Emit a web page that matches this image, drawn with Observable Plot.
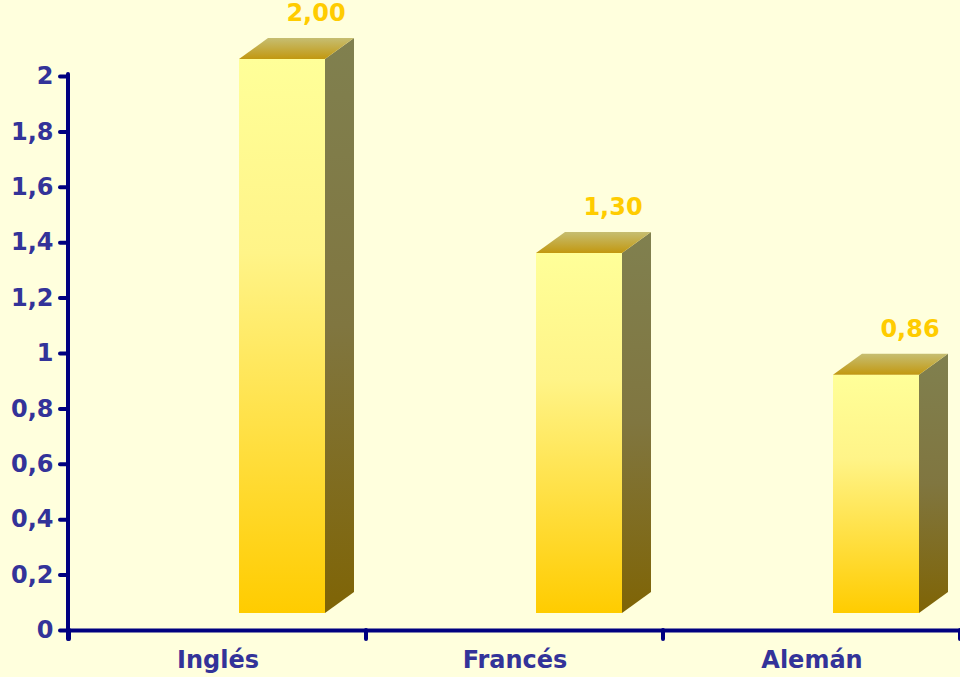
<!DOCTYPE html>
<html><head><meta charset="utf-8">
<script src="https://cdn.jsdelivr.net/npm/d3@7"></script>
<script src="https://cdn.jsdelivr.net/npm/@observablehq/plot@0.6"></script>
<style>html,body{margin:0;padding:0;background:#FFFFDD;overflow:hidden}</style>
</head><body><div id="chart"></div>
<script>
const categories = ["Inglés", "Francés", "Alemán"];
const values = [2.00, 1.30, 0.86];
const yTicks = [0, 0.2, 0.4, 0.6, 0.8, 1, 1.2, 1.4, 1.6, 1.8, 2];

const data = categories.map((c, i) => ({category: c, value: values[i]}));
const comma = d => String(+(+d).toFixed(2)).replace(".", ",");
const navy = "#000080", labelColor = "#333399";
const font = "'DejaVu Sans', Verdana, sans-serif";
const inL = 170, inR = 41, frontDy = -17, depthX = 29, depthY = -21;

const plot = Plot.plot({
  width: 960, height: 677,
  marginLeft: 68, marginRight: 0, marginTop: 76, marginBottom: 47,
  style: {background: "#FFFFDD", fontFamily: font, overflow: "visible"},
  x: {domain: categories, padding: 0, label: null},
  y: {domain: [0, 2], label: null},
  marks: [
    Plot.barY(data, {x: "category", y: "value", fill: "url(#frontGrad)", insetLeft: inL, insetRight: inR, dy: frontDy}),
    Plot.ruleY([0], {stroke: navy, strokeWidth: 4}),
    Plot.axisY({ticks: yTicks, tickFormat: comma, tickSize: 8, tickPadding: 7, stroke: navy, strokeWidth: 4, strokeLinecap: "round", fill: labelColor, fontSize: 24, fontWeight: "bold", label: null}),
    Plot.axisX({tickSize: 0, tickPadding: 20, fill: labelColor, fontSize: 24, fontWeight: "bold", label: null}),
    Plot.text(data, {x: "category", y: "value", text: d => d.value.toFixed(2).replace(".", ","), dx: 98, dy: -63, fill: "#FFCC00", fontSize: 24, fontWeight: "bold"})
  ]
});
document.getElementById("chart").appendChild(plot);

const svg = d3.select(plot);
const defs = svg.insert("defs", ":first-child");
function grad(id, stops) {
  const lg = defs.append("linearGradient").attr("id", id).attr("x1", 0).attr("y1", 0).attr("x2", 0).attr("y2", 1);
  stops.forEach(([o, c]) => lg.append("stop").attr("offset", o).attr("stop-color", c));
}
grad("frontGrad", [[0, "#FFFF99"], [0.35, "#FFF488"], [1, "#FFCC00"]]);
grad("sideGrad", [[0, "#80804F"], [0.5, "#807640"], [1, "#7F6405"]]);
grad("topGrad", [[0, "#C6BE72"], [1, "#C29810"]]);

const xs = plot.scale("x"), ys = plot.scale("y");
const bw = xs.bandwidth;
const g = svg.append("g");
data.forEach(d => {
  const bx = xs.apply(d.category);
  const x0 = bx + inL, x1 = bx + bw - inR;
  const yt = ys.apply(d.value) + frontDy, yb = ys.apply(0) + frontDy;
  g.append("polygon")
    .attr("points", [[x1, yt], [x1 + depthX, yt + depthY], [x1 + depthX, yb + depthY], [x1, yb]].join(" "))
    .attr("fill", "url(#sideGrad)");
  g.append("polygon")
    .attr("points", [[x0, yt], [x1, yt], [x1 + depthX, yt + depthY], [x0 + depthX, yt + depthY]].join(" "))
    .attr("fill", "url(#topGrad)");
});
// y axis line and category boundary ticks
const xr = xs.range, y0 = ys.apply(0), y2 = ys.apply(2);
g.append("line").attr("x1", xr[0]).attr("x2", xr[0]).attr("y1", y2 - 2).attr("y2", y0 + 9)
  .attr("stroke", navy).attr("stroke-width", 4).attr("stroke-linecap", "round");
categories.concat([null]).forEach((c, i) => {
  const x = c === null ? xs.apply(categories[categories.length - 1]) + bw : xs.apply(c);
  g.append("line").attr("x1", x).attr("x2", x).attr("y1", y0).attr("y2", y0 + 9)
    .attr("stroke", navy).attr("stroke-width", 4).attr("stroke-linecap", "round");
});
</script>
</body></html>
